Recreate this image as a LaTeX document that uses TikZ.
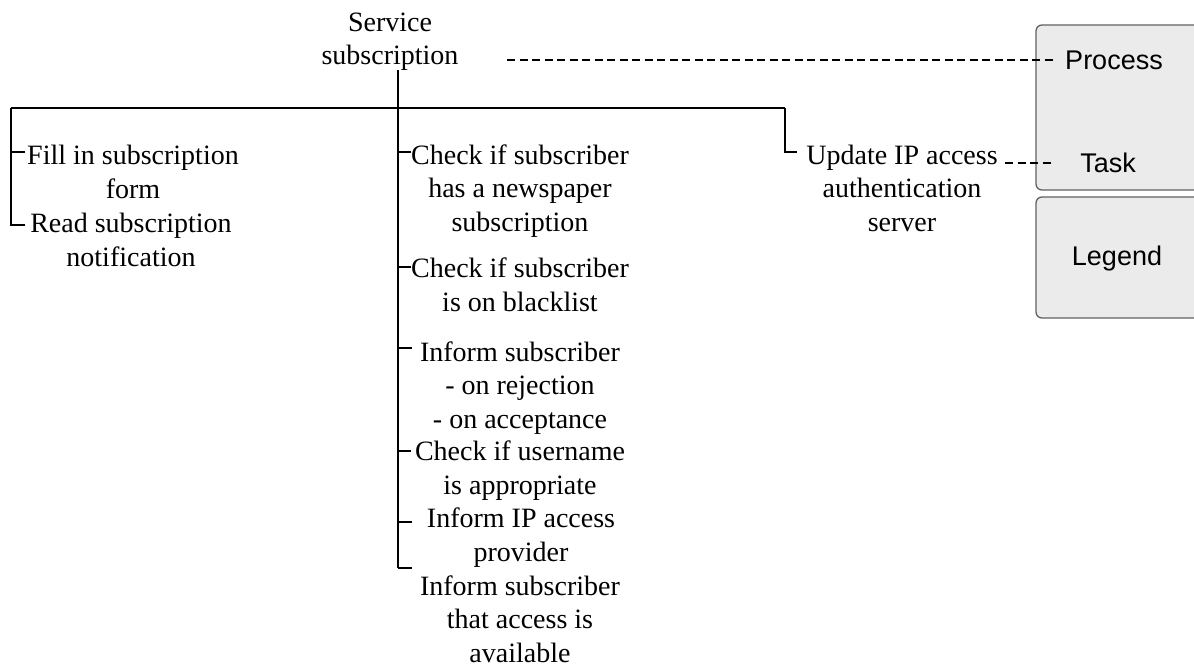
\documentclass[tikz,border=0pt]{standalone}
\usepackage{fontspec}
\setmainfont{Liberation Serif}
\newfontfamily\legendfont{Liberation Sans}
\begin{document}
\begin{tikzpicture}[x=1pt,y=-1pt,
  item/.style={font=\fontsize{28}{33.5}\selectfont, align=center, anchor=base, inner sep=0pt},
  legtext/.style={font=\legendfont\fontsize{27}{32}\selectfont, anchor=base, inner sep=0pt},
  treeline/.style={line width=1.3pt, black},
  dashline/.style={line width=1.4pt, black, dash pattern=on 8pt off 4.5pt},
  legendbox/.style={draw=black!62, fill=black!8, line width=1.3pt, rounded corners=6pt}]
\useasboundingbox (0,0) rectangle (1194,669);

% legend panels (cut off at the right edge)
\draw[legendbox] (1036,25) rectangle (1215,190);
\draw[legendbox] (1036,197) rectangle (1215,318);

% activity labels, each placed at the baseline of its last line
\node[item] (hdr)  at (390,65)  {Service\\subscription};
\node[item] (fill) at (133,198) {Fill in subscription\\form};
\node[item] (read) at (131,266) {Read subscription\\notification};
\node[item] (chk1) at (520,231) {Check if subscriber\\has a newspaper\\subscription};
\node[item] (chk2) at (520,311) {Check if subscriber\\is on blacklist};
\node[item] (inf1) at (520,428) {Inform subscriber\\- on rejection\\- on acceptance};
\node[item] (chk3) at (520,494) {Check if username\\is appropriate};
\node[item] (inf2) at (521,561) {Inform IP access\\provider};
\node[item] (inf3) at (520,662) {Inform subscriber\\that access is\\available};
\node[item] (upd)  at (902,231) {Update IP access\\authentication\\server};

% legend labels
\node[legtext] (process) at (1114,70)  {Process};
\node[legtext] (task)    at (1108,172) {Task};
\node[legtext] (legend)  at (1117,265) {Legend};

% tree junctions
\coordinate (top)    at (398,70);
\coordinate (barL)   at (11,108);
\coordinate (barR)   at (785,108);
\coordinate (trunkE) at (398,568);

% main bar and trunk
\draw[treeline] (top) -- (trunkE);
\draw[treeline] (barL) -- (barR);

% left branch
\draw[treeline] (barL) -- (11,225) -- (25,225);
\draw[treeline] (11,152) -- (25,152);

% centre branch ticks
\draw[treeline] (398,152) -- (411,152);
\draw[treeline] (398,267) -- (411,267);
\draw[treeline] (398,348) -- (412,348);
\draw[treeline] (398,451) -- (411,451);
\draw[treeline] (398,522) -- (412,522);
\draw[treeline] (trunkE) -- (412,568);

% right branch
\draw[treeline] (barR) -- (785,152) -- (797,152);

% dashed links to the legend
\draw[dashline] (507,60) -- (1055,60);
\draw[dashline] (1005,163) -- (1055,163);
\end{tikzpicture}
\end{document}
